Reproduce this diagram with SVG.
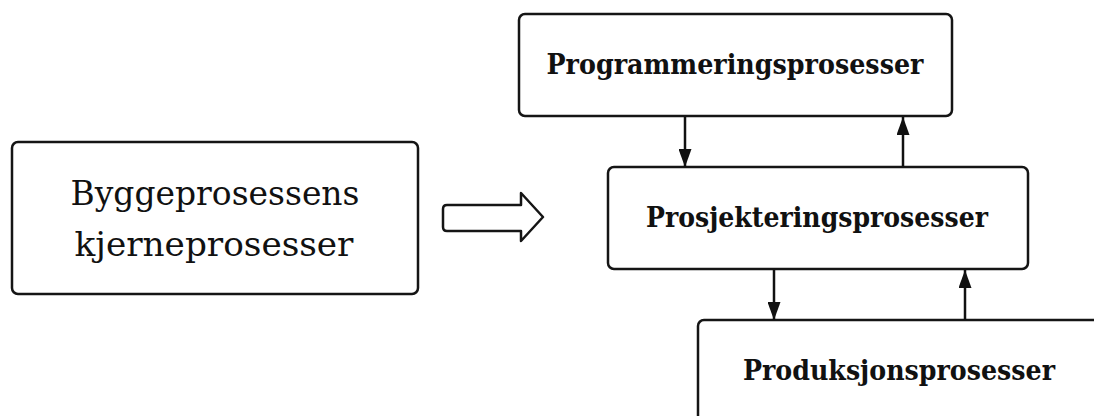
<svg xmlns="http://www.w3.org/2000/svg" width="1094" height="416" viewBox="0 0 1094 416">
  <style>
    .box { fill: #ffffff; stroke: #151515; stroke-width: 2.5; }
    .big { font-family: "DejaVu Serif", "Liberation Serif", serif; font-size: 34px; fill: #111; text-anchor: middle; }
    .lbl { font-family: "DejaVu Serif", "Liberation Serif", serif; font-size: 27px; font-weight: bold; fill: #111; text-anchor: middle; }
    .link { stroke: #111; stroke-width: 2.5; fill: none; marker-end: url(#head); }
  </style>
  <defs>
    <marker id="head" viewBox="0 0 18 13" refX="18" refY="6.5" markerWidth="18" markerHeight="13" markerUnits="userSpaceOnUse" orient="auto">
      <path d="M0,0 L18,6.5 L0,13 z" fill="#111"/>
    </marker>
  </defs>
  <rect width="1094" height="416" fill="#ffffff"/>

  <!-- Left summary box -->
  <g id="kjerne">
    <rect class="box" x="12" y="142" width="406" height="152" rx="6"/>
    <text class="big" x="215" y="205" textLength="289" lengthAdjust="spacingAndGlyphs">Byggeprosessens</text>
    <text class="big" x="214" y="256" textLength="279" lengthAdjust="spacingAndGlyphs">kjerneprosesser</text>
  </g>

  <!-- Hollow block arrow -->
  <g id="blokkpil">
    <path d="M447,205 L521,205 L521,193 L543,217 L521,241 L521,231 L447,231 Q443,231 443,227 L443,209 Q443,205 447,205 z" fill="#ffffff" stroke="#151515" stroke-width="2.5" stroke-linejoin="round"/>
  </g>

  <!-- Process boxes -->
  <g id="programmering">
    <rect class="box" x="519" y="14" width="433" height="102" rx="6"/>
    <text class="lbl" x="735" y="74" textLength="377" lengthAdjust="spacingAndGlyphs">Programmeringsprosesser</text>
  </g>
  <g id="prosjektering">
    <rect class="box" x="608" y="167" width="420" height="102" rx="6"/>
    <text class="lbl" x="817" y="227" textLength="342" lengthAdjust="spacingAndGlyphs">Prosjekteringsprosesser</text>
  </g>
  <g id="produksjon">
    <rect class="box" x="698" y="320" width="404" height="110" rx="6"/>
    <text class="lbl" x="899" y="380" textLength="312" lengthAdjust="spacingAndGlyphs">Produksjonsprosesser</text>
  </g>

  <!-- Connectors -->
  <g id="koblinger">
    <line class="link" x1="685" y1="117" x2="685" y2="167"/>
    <line class="link" x1="903" y1="167" x2="903" y2="117"/>
    <line class="link" x1="774" y1="270" x2="774" y2="320"/>
    <line class="link" x1="965" y1="320" x2="965" y2="270"/>
  </g>
</svg>
